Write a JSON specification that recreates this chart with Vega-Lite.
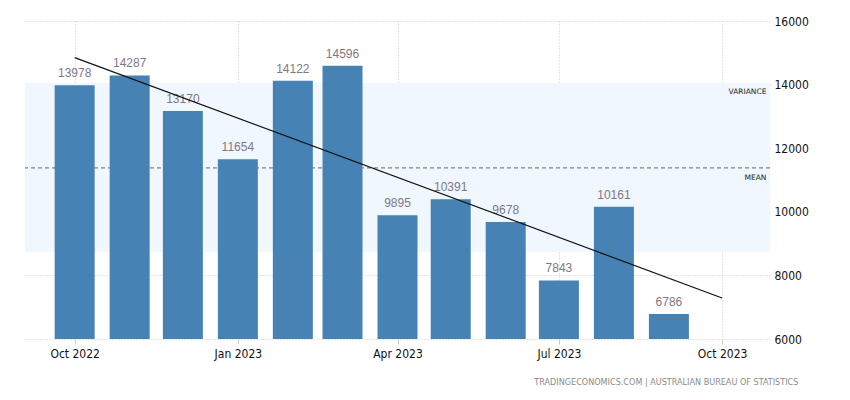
{
  "$schema": "https://vega.github.io/schema/vega-lite/v6.json",
  "autosize": "none",
  "width": 745,
  "height": 318,
  "padding": {"left": 25, "top": 21, "right": 80, "bottom": 61},
  "background": "white",
  "config": {
    "view": {"stroke": null},
    "font": "Liberation Sans"
  },
  "title": {
    "text": "TRADINGECONOMICS.COM  |  AUSTRALIAN BUREAU OF STATISTICS",
    "orient": "bottom",
    "anchor": "end",
    "fontSize": 9,
    "fontWeight": "normal",
    "color": "#8a8a8a",
    "offset": 19,
    "dx": -10,
    "font": "DejaVu Sans Condensed"
  },
  "datasets": {
    "bars": [
      {"date": "2022-10-01", "value": 13978},
      {"date": "2022-11-01", "value": 14287},
      {"date": "2022-12-01", "value": 13170},
      {"date": "2023-01-01", "value": 11654},
      {"date": "2023-02-01", "value": 14122},
      {"date": "2023-03-01", "value": 14596},
      {"date": "2023-04-01", "value": 9895},
      {"date": "2023-05-01", "value": 10391},
      {"date": "2023-06-01", "value": 9678},
      {"date": "2023-07-01", "value": 7843},
      {"date": "2023-08-01", "value": 10161},
      {"date": "2023-09-01", "value": 6786}
    ],
    "trend": [
      {"date": "2022-10-01", "value": 14850},
      {"date": "2023-10-01", "value": 7290}
    ],
    "band": [
      {"start": "2022-09-03", "end": "2023-10-28", "low": 8740, "high": 14060}
    ],
    "notes": [
      {"date": "2023-10-26", "value": 13780, "label": "VARIANCE"},
      {"date": "2023-10-26", "value": 11060, "label": "MEAN"}
    ]
  },
  "layer": [
    {
      "data": {"name": "band"},
      "mark": {"type": "rect", "color": "#f0f7fe"},
      "encoding": {
        "x": {"field": "start", "type": "temporal", "scale": {"domain": ["2022-09-03", "2023-10-28"], "nice": false, "padding": 0},
          "axis": {
            "values": ["2022-10-01", "2023-01-01", "2023-04-01", "2023-07-01", "2023-10-01"],
            "format": "%b %Y",
            "title": null,
            "labelFontSize": 12,
            "labelColor": "#111",
            "labelPadding": 4,
            "tickSize": 5,
            "tickColor": "#ccc",
            "domain": false,
            "grid": true,
            "gridColor": "#c8c8c8",
            "gridDash": [1, 2],
            "labelFont": "DejaVu Sans Condensed"
          }
        },
        "x2": {"field": "end"},
        "y": {"field": "low", "type": "quantitative", "scale": {"domain": [6000, 16000], "nice": false, "zero": false, "padding": 0},
          "axis": {
            "orient": "right",
            "values": [6000, 8000, 10000, 12000, 14000, 16000],
            "format": "d",
            "title": null,
            "labelFontSize": 12,
            "labelColor": "#111",
            "ticks": false,
            "domain": false,
            "labelPadding": 4,
            "grid": true,
            "gridColor": "#c8c8c8",
            "gridDash": [1, 2],
            "labelFont": "DejaVu Sans Condensed"
          }
        },
        "y2": {"field": "high"}
      }
    },
    {
      "data": {"values": [{"mean": 11380}]},
      "mark": {"type": "rule", "color": "#666", "strokeDash": [4, 3], "strokeWidth": 1},
      "encoding": {
        "y": {"field": "mean", "type": "quantitative"}
      }
    },
    {
      "data": {"name": "bars"},
      "mark": {"type": "bar", "color": "#4682b4", "size": 40, "clip": true},
      "encoding": {
        "x": {"field": "date", "type": "temporal"},
        "y": {"field": "value", "type": "quantitative"}
      }
    },
    {
      "data": {"name": "bars"},
      "mark": {"type": "text", "baseline": "bottom", "dy": -5, "fontSize": 12, "color": "#7e7886"},
      "encoding": {
        "x": {"field": "date", "type": "temporal"},
        "y": {"field": "value", "type": "quantitative"},
        "text": {"field": "value", "type": "quantitative", "format": "d"}
      }
    },
    {
      "data": {"name": "trend"},
      "mark": {"type": "line", "color": "#111", "strokeWidth": 1.2},
      "encoding": {
        "x": {"field": "date", "type": "temporal"},
        "y": {"field": "value", "type": "quantitative"}
      }
    },
    {
      "data": {"name": "notes"},
      "mark": {"type": "text", "align": "right", "fontSize": 7.5, "color": "#222", "font": "DejaVu Sans"},
      "encoding": {
        "x": {"field": "date", "type": "temporal"},
        "y": {"field": "value", "type": "quantitative"},
        "text": {"field": "label"}
      }
    }
  ]
}
